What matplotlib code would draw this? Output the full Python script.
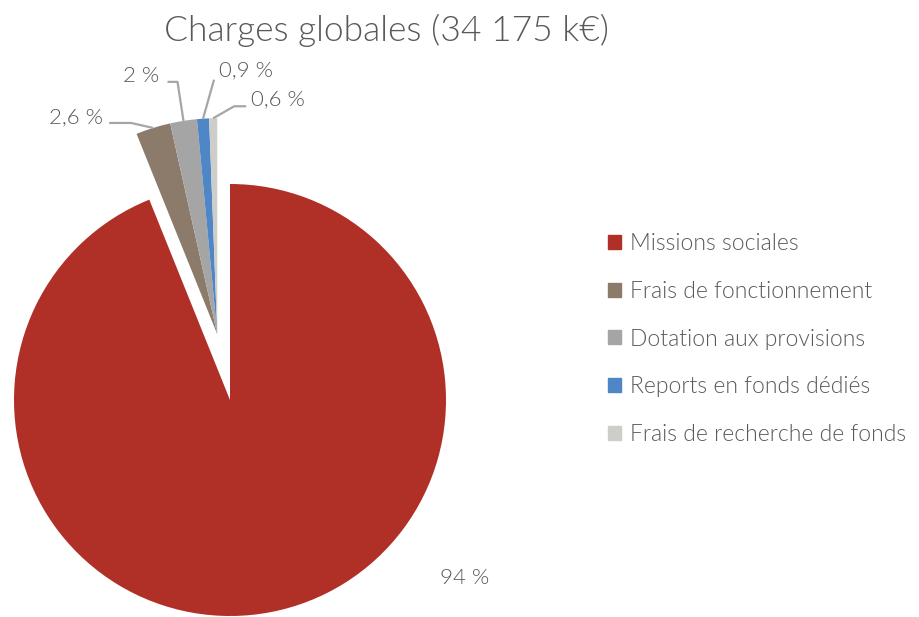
import numpy as np
import matplotlib
matplotlib.use("Agg")
import matplotlib.pyplot as plt

categories = ["Missions sociales", "Frais de fonctionnement", "Dotation aux provisions",
              "Reports en fonds dédiés", "Frais de recherche de fonds"]
values = [94, 2.6, 2, 0.9, 0.6]
labels = ["94 %", "2,6 %", "2 %", "0,9 %", "0,6 %"]
colors = ["#B03028", "#8C7B6B", "#A5A5A5", "#4F86C6", "#CDCDC9"]
exploded = [False, True, True, True, True]

W, H = 919, 617
plt.rcParams['font.family'] = ['Lato', 'DejaVu Sans']
plt.rcParams['font.weight'] = 300
TXT = "#595959"

fig = plt.figure(figsize=(W / 100, H / 100), dpi=100)
ax = fig.add_axes([0, 0, 1, 1])
cx, cy, R = 230, H - 400, 216
wedges, _ = ax.pie(values, colors=colors, startangle=90, counterclock=False,
                   center=(cx, cy), radius=R, wedgeprops=dict(linewidth=0))
ax.set_xlim(0, W)
ax.set_ylim(0, H)
ax.set_aspect('equal')
ax.axis('off')

# explode the group of small slices together along the group's bisector
grp = [w for w, e in zip(wedges, exploded) if e]
t1 = min(w.theta1 for w in grp)
t2 = max(w.theta2 for w in grp)
gm = np.deg2rad((t1 + t2) / 2)
dist = 67
for w in grp:
    w.set_center((cx + dist * np.cos(gm), cy + dist * np.sin(gm)))

# (elbow offset, end offset, text offset) relative to wedge outer midpoint (px, y up)
label_geom = [None,
              ((-22, 5), (-44, 5), (-50, 11), 'right'),
              ((-6, 39), (-16, 39), (-24, 45), 'right'),
              ((11, 39), (11, 39), (16, 48), 'left'),
              ((21, 12), (33, 12), (38, 19), 'left')]
for i, w in enumerate(wedges):
    th = np.deg2rad((w.theta1 + w.theta2) / 2)
    ox, oy = w.center
    px = ox + w.r * np.cos(th)
    py = oy + w.r * np.sin(th)
    if i == 0:
        ax.text(465, H - 578, labels[0], fontsize=16, color=TXT, ha='center', va='center')
        continue
    (ex, ey), (dx, dy), (tx, ty), ha = label_geom[i]
    ax.plot([px, px + ex, px + dx], [py, py + ey, py + dy], color="#A6A6A6", lw=1.6,
            solid_capstyle='butt')
    ax.text(px + tx, py + ty, labels[i], fontsize=16, color=TXT, ha=ha, va='center')

ax.text(386, H - 30, "Charges globales (34 175 k€)", fontsize=25.5, color=TXT,
        ha='center', va='center')

handles = [plt.Rectangle((0, 0), 1, 1, color=c) for c in colors]
leg = fig.legend(handles, categories, loc='center left', bbox_to_anchor=(608 / W, 1 - 339 / H),
                 frameon=False, fontsize=16.5, labelcolor=TXT, handlelength=0.57, handleheight=0.57,
                 handletextpad=0.38, labelspacing=1.16, borderpad=0, borderaxespad=0)

fig.savefig("out.png", dpi=100)
